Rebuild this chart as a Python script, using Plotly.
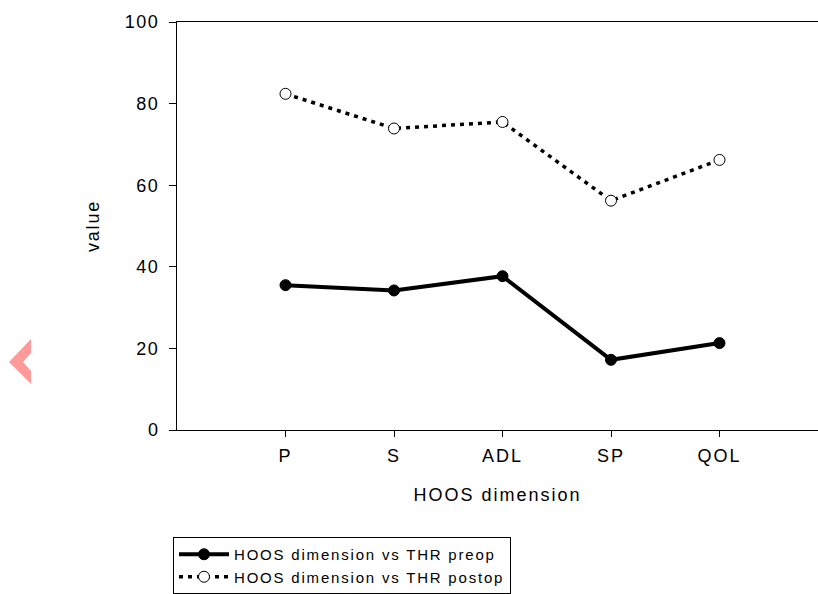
import plotly.graph_objects as go

categories = ["P", "S", "ADL", "SP", "QOL"]
preop = [35.5, 34.2, 37.7, 17.2, 21.3]
postop = [82.4, 73.9, 75.5, 56.2, 66.2]
y_ticks = [0, 20, 40, 60, 80, 100]
series_names = ["HOOS dimension vs THR preop", "HOOS dimension vs THR postop"]
x_title = "HOOS dimension"
y_title = "value"

FONT = "Liberation Sans, Arial, sans-serif"


def sp(text, ls):
    return f'<span style="letter-spacing:{ls}px">{text}</span>'


fig = go.Figure()
fig.add_trace(go.Scatter(
    x=categories, y=preop, name=sp(series_names[0], 1.8), mode="lines+markers",
    line=dict(color="black", width=4),
    marker=dict(symbol="circle", size=11, color="black", line=dict(color="black", width=1)),
))
fig.add_trace(go.Scatter(
    x=categories, y=postop, name=sp(series_names[1], 1.8), mode="lines+markers",
    line=dict(color="black", width=3.5, dash="4px,5px"),
    marker=dict(symbol="circle", size=11, color="white", line=dict(color="black", width=1)),
))

W, H = 818, 594
L, R, T, B = 177, 0, 22, 164
pw, ph = W - L - R, H - T - B


def px(x):
    return (x - L) / pw


def py(y):
    return (H - B - y) / ph


chev = [(31, 339), (9, 362), (31, 384), (31, 371), (23, 362), (31, 353)]
path = "M " + " L ".join(f"{px(a):.5f},{py(b):.5f}" for a, b in chev) + " Z"

fig.update_layout(
    width=W, height=H,
    margin=dict(l=L, r=R, t=T, b=B, autoexpand=False),
    paper_bgcolor="white", plot_bgcolor="white",
    font=dict(family=FONT, color="black", size=18),
    showlegend=True,
    legend=dict(
        x=px(173), y=py(537), xanchor="left", yanchor="top",
        bordercolor="black", borderwidth=1, bgcolor="white",
        font=dict(family=FONT, size=15, color="black"),
        itemwidth=50, tracegroupgap=0,
    ),
    xaxis=dict(
        type="category", range=[-1, -1 + pw / 108.5],
        tickvals=categories, ticktext=[sp(c, 2) for c in categories],
        showline=True, linecolor="black", linewidth=1, mirror=True,
        ticks="outside", ticklen=6, tickcolor="black", tickwidth=1,
        ticklabelstandoff=3,
        showgrid=False, zeroline=False, automargin=False,
        tickfont=dict(family=FONT, size=18),
        title=dict(text=sp(x_title, 2), standoff=23, font=dict(family=FONT, size=18)),
    ),
    yaxis=dict(
        range=[0, 100], tickvals=y_ticks, ticktext=[sp(str(v), 1.5) for v in y_ticks],
        showline=True, linecolor="black", linewidth=1,
        ticks="outside", ticklen=7, tickcolor="black", tickwidth=1,
        ticklabelstandoff=6,
        showgrid=False, zeroline=False, automargin=False,
        tickfont=dict(family=FONT, size=18),
        title=dict(text=sp(y_title, 1.8), standoff=20, font=dict(family=FONT, size=18)),
    ),
    shapes=[dict(type="path", xref="paper", yref="paper", path=path,
                 fillcolor="#ff9a9a", line=dict(width=0), layer="above")],
)

fig.write_html(
    "out.html",
    config={"displayModeBar": False},
    post_script="document.body.style.margin='0';document.body.style.overflow='hidden';",
)
